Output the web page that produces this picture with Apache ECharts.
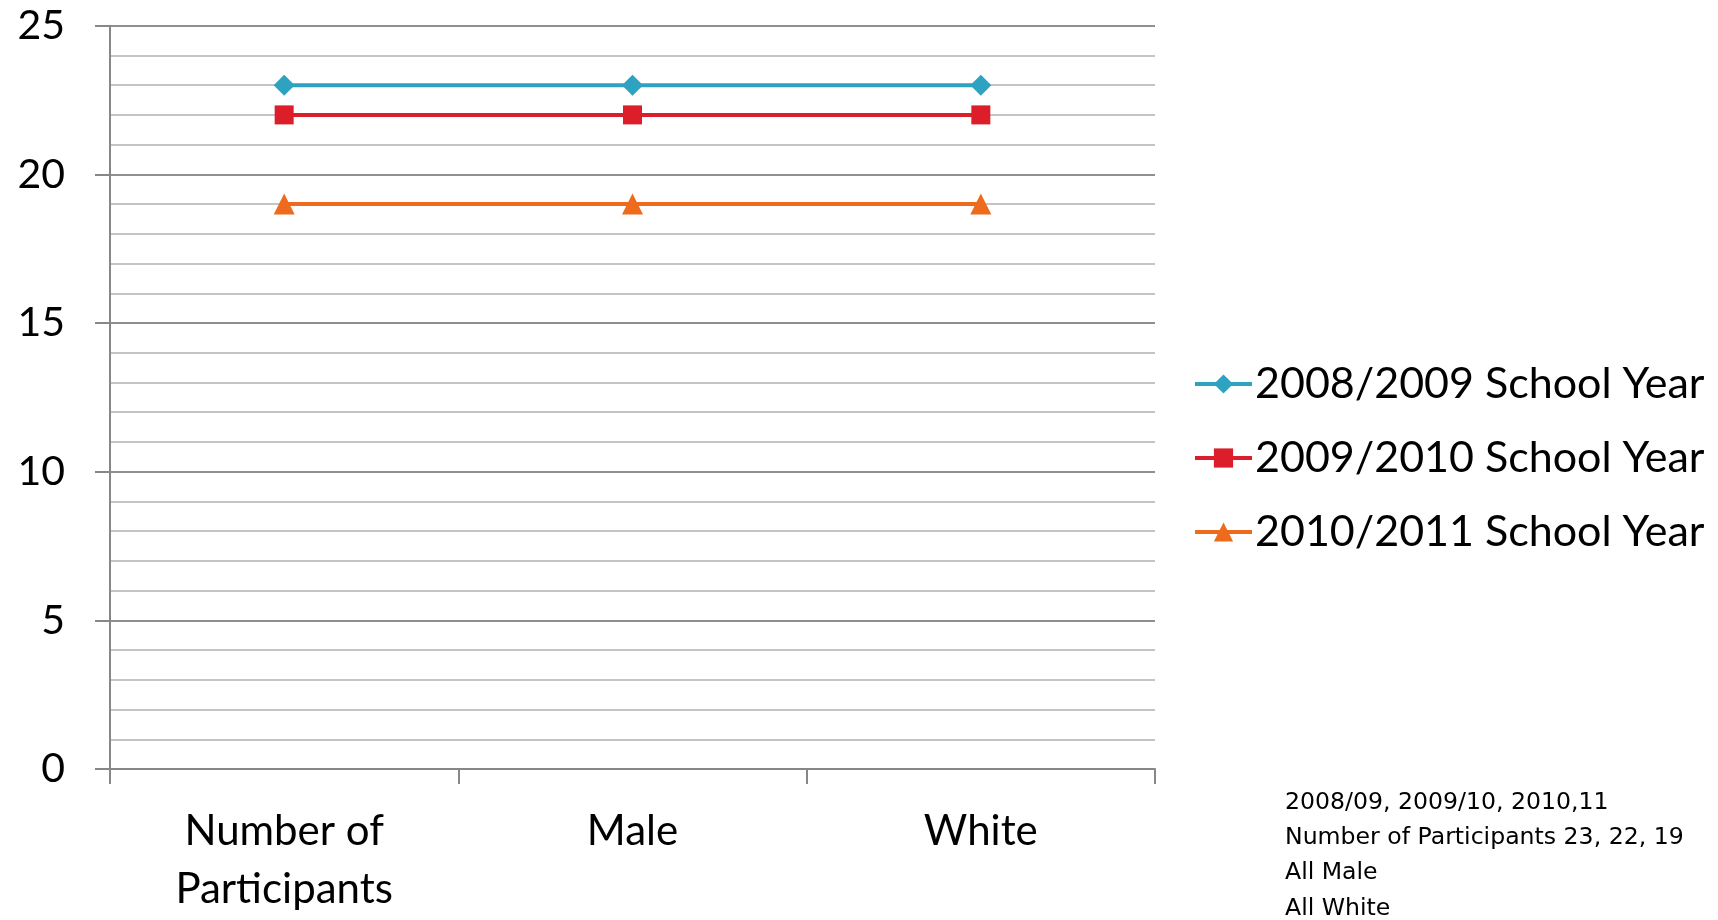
<!DOCTYPE html>
<html>
<head>
<meta charset="utf-8">
<script src="https://cdn.jsdelivr.net/npm/echarts@6/dist/echarts.min.js"></script>
<style>
html,body{margin:0;padding:0;background:#fff;}
#chart{width:1718px;height:920px;}
</style>
</head>
<body>
<div id="chart"></div>
<script>
var categories = ['Number of\nParticipants', 'Male', 'White'];
var seriesNames = ['2008/2009 School Year', '2009/2010 School Year', '2010/2011 School Year'];
var values0809 = [23, 23, 23];
var values0910 = [22, 22, 22];
var values1011 = [19, 19, 19];
var yTicks = [0, 5, 10, 15, 20, 25];
var noteLines = ['2008/09, 2009/10, 2010,11', 'Number of Participants 23, 22, 19', 'All Male', 'All White'];

var colors = ['#2DA2C1', '#DC1E2A', '#EE6A1C'];
var symbols = ['diamond', 'rect', 'triangle'];
var allValues = [values0809, values0910, values1011];

var chart = echarts.init(document.getElementById('chart'), null, {renderer: 'canvas'});
var font = 'Lato, "Open Sans", sans-serif';

var series = allValues.map(function (vals, i) {
  return {
    name: seriesNames[i],
    type: 'line',
    data: vals,
    symbol: symbols[i],
    symbolSize: i === 0 ? 21 : (i === 1 ? 19 : 21),
    showSymbol: true,
    lineStyle: {color: colors[i], width: 4},
    itemStyle: {color: colors[i]},
    emphasis: {disabled: true},
    animation: false,
    z: 10 - i
  };
});

chart.setOption({
  backgroundColor: '#ffffff',
  animation: false,
  textStyle: {fontFamily: font},
  grid: {left: 110, right: 563, top: 25.7, bottom: 151, containLabel: false},
  title: {
    text: noteLines.join('\n'),
    left: 1285,
    top: 785,
    padding: 0,
    textStyle: {fontFamily: '"DejaVu Sans", sans-serif', fontSize: 23.6, lineHeight: 35.3, fontWeight: 'normal', color: '#000'}
  },
  legend: {
    orient: 'vertical',
    left: 1188,
    top: 355,
    itemWidth: 57,
    itemHeight: 24,
    itemGap: 26,
    selectedMode: false,
    lineStyle: {width: 4},
    textStyle: {fontFamily: font, fontSize: 43, lineHeight: 48, color: '#000', padding: [0, 0, 0, -2]},
    data: seriesNames
  },
  xAxis: {
    type: 'category',
    data: categories,
    boundaryGap: true,
    axisLine: {show: true, lineStyle: {color: '#878787', width: 2}},
    axisTick: {show: true, length: 15, alignWithLabel: false, lineStyle: {color: '#878787', width: 2}},
    axisLabel: {margin: 33, fontSize: 42, lineHeight: 58, color: '#000', fontFamily: font},
    splitLine: {show: false}
  },
  yAxis: {
    type: 'value',
    min: 0,
    max: 25,
    interval: 5,
    axisLine: {show: true, lineStyle: {color: '#878787', width: 2}},
    axisTick: {show: true, length: 15, lineStyle: {color: '#878787', width: 2}},
    axisLabel: {
      margin: 45, fontSize: 41, color: '#000', fontFamily: font,
      formatter: function (v) { return yTicks.indexOf(v) >= 0 ? String(v) : ''; }
    },
    splitLine: {show: true, lineStyle: {color: '#8f8f8f', width: 2}},
    minorTick: {show: false, splitNumber: 5},
    minorSplitLine: {show: true, lineStyle: {color: '#c4c4c4', width: 2}}
  },
  series: series
});
</script>
</body>
</html>
